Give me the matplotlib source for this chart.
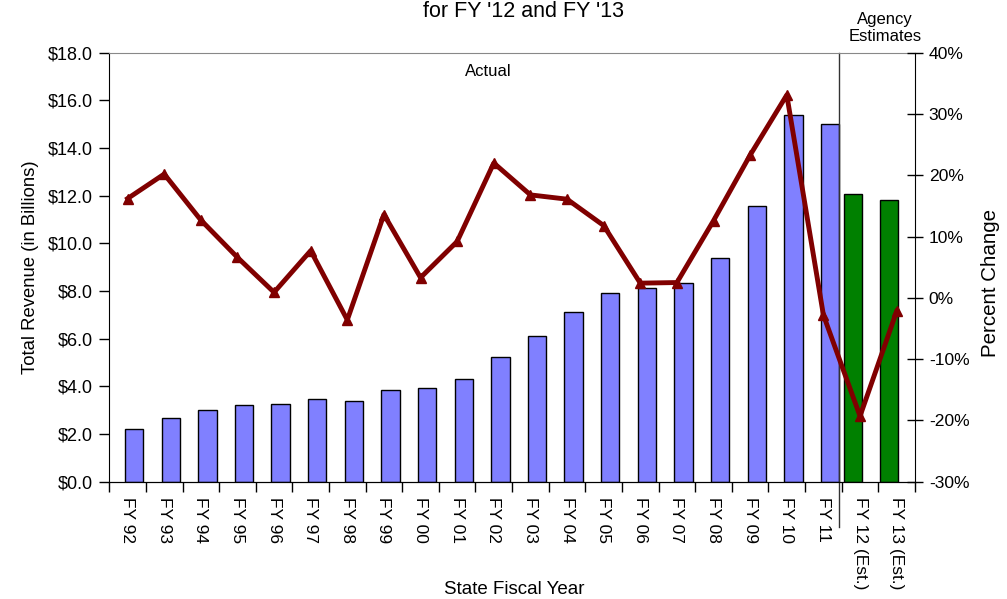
import matplotlib.pyplot as plt
import numpy as np

plt.rcParams['font.family'] = ['Liberation Sans', 'DejaVu Sans']

# data
years = ["FY 92", "FY 93", "FY 94", "FY 95", "FY 96", "FY 97", "FY 98", "FY 99",
         "FY 00", "FY 01", "FY 02", "FY 03", "FY 04", "FY 05", "FY 06", "FY 07",
         "FY 08", "FY 09", "FY 10", "FY 11", "FY 12 (Est.)", "FY 13 (Est.)"]
revenue = [2.22, 2.68, 3.02, 3.22, 3.25, 3.49, 3.37, 3.83, 3.94, 4.31, 5.24,
           6.12, 7.10, 7.93, 8.13, 8.32, 9.39, 11.58, 15.40, 15.01, 12.07, 11.82]
pct_change = [16.2, 20.2, 12.7, 6.6, 0.9, 7.7, -3.6, 13.6, 3.3, 9.2, 22.0,
              16.8, 16.1, 11.8, 2.4, 2.5, 12.6, 23.3, 33.1, -2.8, -19.3, -2.2]
n_actual = 20

x = np.arange(len(years))

fig = plt.figure(figsize=(10.07, 5.99), dpi=100)
ax = fig.add_axes([0.1085, 0.1958, 0.8001, 0.7162])

# actual and estimate bars sit in different slots, like a grouped bar chart
ax.bar(x[:n_actual] + 0.18, revenue[:n_actual], width=0.5, color="#8080FF",
       edgecolor="black", linewidth=1, zorder=2)
ax.bar(x[n_actual:] - 0.2, revenue[n_actual:], width=0.5, color="#008000",
       edgecolor="black", linewidth=1, zorder=2)
ax.set_xlim(-0.5, len(years) - 0.5)
ax.set_ylim(0, 18)
ax.set_yticks(np.arange(0, 18.1, 2))
ax.set_yticklabels(["$%.1f" % v for v in np.arange(0, 18.1, 2)], fontsize=13)
ax.set_ylabel("Total Revenue (in Billions)", fontsize=13.3, labelpad=6)

ax.set_xticks(x)
ax.set_xticklabels(years, rotation=270, fontsize=12.5, va="top", ha="center")
ax.set_xticks(np.arange(-0.5, len(years), 1), minor=True)
ax.tick_params(axis="x", which="major", length=0, pad=11)
ax.tick_params(axis="x", which="minor", length=7, direction="out", width=1)
ax.tick_params(axis="y", length=7, direction="out", width=1, pad=5)

ax.spines["top"].set_color("#888888")
ax.spines["right"].set_visible(False)

ax2 = ax.twinx()
ax2.plot(x, pct_change, color="#800000", linewidth=3.5, marker="^", markersize=7, zorder=3)
ax2.set_ylim(-30, 40)
ax2.set_yticks(np.arange(-30, 41, 10))
ax2.set_yticklabels(["%d%%" % v for v in np.arange(-30, 41, 10)], fontsize=12.6)
ax2.tick_params(axis="y", length=12, direction="inout", width=1, pad=4)
ax2.spines["top"].set_visible(False)
ax2.spines["left"].set_visible(False)
fig.text(990 / 1007, 1 - 283 / 599, "Percent Change", fontsize=14.8, rotation=90,
         ha="center", va="center")

# divider between actual and estimates
ax.axvline(n_actual - 0.57, ymin=-0.105, ymax=1.0, color="#333333", linewidth=1, clip_on=False)

ax.text(9.85, 17.2, "Actual", fontsize=12, ha="center", va="center")
fig.text(0.879, 0.953, "Agency\nEstimates", fontsize=12, ha="center", va="center", linespacing=1.15)
fig.text(0.52, 0.998, "for FY '12 and FY '13", fontsize=15.5, ha="center", va="top")
fig.text(0.511, 1 - 590 / 599, "State Fiscal Year", fontsize=13.5, ha="center", va="center")

fig.savefig("out.png", dpi=100)
